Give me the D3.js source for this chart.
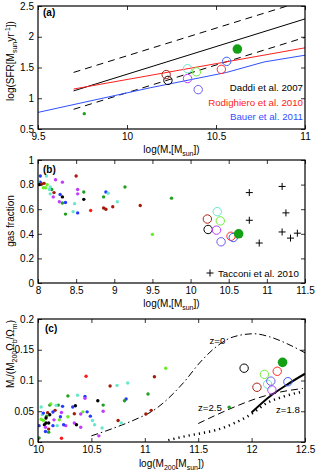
<!DOCTYPE html>
<html>
<head>
<meta charset="utf-8">
<script src="https://cdn.jsdelivr.net/npm/d3@7"></script>
<style>
body { margin: 0; background: #fff; }
text { font-family: "Liberation Sans", Arial, sans-serif; }
</style>
</head>
<body>
<svg id="fig" width="316" height="474"></svg>
<script>
// simulated galaxies, same order in every panel
var simColors = ["#000000", "#a8230f", "#66e8cc", "#6ef03c", "#c03cff", "#6c5cf0", "#ff2a2a", "#3c5cff"]
var bigGreen = "#14a014"
var dotColors = {k: "#000000", br: "#a51a08", aq: "#66e8cc", lg: "#66ee22", mg: "#c03cff",
                 bl: "#2838ff", rd: "#ff1a1a", gr: "#1ea01e"}

// ---- panel (a)
var aXTicks = [9.5, 10, 10.5, 11]
var aYTicks = [0.5, 1, 1.5, 2, 2.5]
var daddi = [[9.7, 1.12], [11, 2.29]]
var daddiHi = [[9.7, 1.42], [11, 2.59]]
var daddiLo = [[9.7, 0.82], [11, 1.99]]
var rodig = [[9.7, 1.15], [11, 1.82]]
var bauer = [[9.5, 0.77], [10.13, 1.17], [10.56, 1.42], [10.77, 1.59], [11, 1.70]]
var aCircX = [10.23, 10.22, 10.34, 10.39, 10.34, 10.40, 10.53, 10.56]
var aCircY = [1.29, 1.385, 1.48, 1.43, 1.32, 1.14, 1.47, 1.60]
var aBig = [10.62, 1.80]
var aDots = [[9.76, 0.75, "gr"]]

// ---- panel (b)
var bXTicks = [8, 8.5, 9, 9.5, 10, 10.5, 11, 11.5]
var bYTicks = [0, 0.2, 0.4, 0.6, 0.8, 1]
var bCircX = [10.23, 10.22, 10.35, 10.39, 10.34, 10.40, 10.53, 10.56]
var bCircY = [0.435, 0.52, 0.58, 0.505, 0.43, 0.335, 0.38, 0.37]
var bBig = [10.63, 0.40]
var tacX = [10.77, 11.2, 11.25, 10.77, 11.2, 11.31, 11.4, 10.9]
var tacY = [0.735, 0.785, 0.57, 0.51, 0.415, 0.365, 0.405, 0.325]
var bDots = [
  [8.03, 0.87, "bl"], [8.11, 0.87, "aq"], [8.23, 0.84, "mg"], [8.5, 0.87, "br"], [8.03, 0.82, "bl"],
  [8.0, 0.83, "aq"], [8.0, 0.81, "aq"], [8.02, 0.80, "k"], [8.05, 0.805, "br"], [8.08, 0.81, "br"],
  [8.12, 0.80, "lg"], [8.07, 0.775, "lg"], [8.1, 0.775, "lg"], [8.16, 0.78, "aq"], [8.18, 0.76, "gr"],
  [8.15, 0.76, "aq"], [8.32, 0.82, "mg"], [8.21, 0.735, "br"], [8.16, 0.725, "aq"], [8.2, 0.70, "mg"],
  [8.29, 0.72, "bl"], [8.32, 0.70, "k"], [8.52, 0.76, "mg"], [8.52, 0.725, "mg"], [8.6, 0.74, "gr"],
  [8.6, 0.68, "k"], [8.28, 0.66, "mg"], [8.36, 0.655, "bl"], [8.32, 0.65, "gr"], [8.36, 0.56, "gr"],
  [8.46, 0.58, "aq"], [8.52, 0.57, "bl"], [8.69, 0.59, "rd"], [8.48, 0.645, "aq"], [8.86, 0.70, "gr"],
  [8.89, 0.74, "bl"], [8.92, 0.73, "aq"], [8.86, 0.61, "br"], [8.89, 0.60, "br"], [8.98, 0.62, "br"],
  [9.04, 0.66, "aq"], [9.14, 0.78, "gr"], [9.34, 0.63, "br"], [9.5, 0.395, "lg"], [9.75, 0.69, "gr"]
]

// ---- panel (c)
var cXTicks = [10, 10.5, 11, 11.5, 12, 12.5]
var cYTicks = [0, 0.05, 0.1, 0.15, 0.2]
var cCircX = [11.93, 12.05, 12.15, 12.12, 12.19, 12.18, 12.24, 12.34]
var cCircY = [0.120, 0.089, 0.094, 0.110, 0.0846, 0.099, 0.115, 0.098]
var cBig = [12.29, 0.1295]
var z0 = [[10.50, 0.010], [10.70, 0.022], [10.955, 0.040], [11.05, 0.048], [11.36, 0.096], [11.52, 0.13],
          [11.67, 0.155], [11.83, 0.171], [12.02, 0.176], [12.17, 0.171], [12.33, 0.160], [12.5, 0.145]]
var z25 = [[11.50, 0.030], [11.67, 0.044], [11.86, 0.0585], [12.05, 0.071], [12.235, 0.080], [12.48, 0.087]]
var z18 = [[11.22, 0.003], [11.36, 0.0087], [11.52, 0.014], [11.67, 0.0195], [11.83, 0.030],
           [11.985, 0.044], [12.14, 0.063], [12.30, 0.074], [12.48, 0.082]]
var zSolid = [[12.0, 0.048], [12.17, 0.074], [12.33, 0.093], [12.5, 0.111]]
var zLabels = [["z=0", 11.68, 0.16], ["z=2.5", 11.61, 0.051], ["z=1.8", 12.34, 0.0477]]
var cDots = [
  [10.45, 0.107, "rd"], [10.22, 0.006, "rd"], [10.675, 0.091, "br"], [10.74, 0.092, "aq"], [10.84, 0.096, "aq"],
  [11.09, 0.106, "br"], [11.03, 0.078, "gr"], [10.825, 0.070, "bl"], [10.81, 0.067, "gr"], [11.06, 0.0515, "br"],
  [11.01, 0.0455, "br"], [10.56, 0.067, "k"], [10.61, 0.060, "gr"], [10.61, 0.050, "mg"], [10.75, 0.035, "br"],
  [10.78, 0.031, "aq"], [10.28, 0.075, "gr"], [10.37, 0.076, "aq"], [10.44, 0.074, "bl"], [10.44, 0.071, "mg"],
  [10.35, 0.059, "k"], [10.325, 0.057, "bl"], [10.19, 0.060, "gr"], [10.17, 0.0596, "aq"], [10.23, 0.058, "bl"],
  [10.11, 0.060, "gr"], [10.12, 0.062, "lg"], [10.03, 0.057, "aq"], [10.04, 0.0445, "aq"], [10.05, 0.047, "bl"],
  [10.09, 0.0477, "br"], [10.16, 0.0515, "br"], [10.22, 0.048, "mg"], [10.14, 0.0488, "bl"], [10.11, 0.0444, "k"],
  [10.08, 0.042, "gr"], [10.05, 0.035, "lg"], [10.075, 0.039, "k"], [10.03, 0.037, "lg"], [10.075, 0.031, "k"],
  [10.10, 0.031, "k"], [10.06, 0.028, "k"], [10.10, 0.021, "br"], [10.07, 0.024, "mg"], [10.10, 0.016, "gr"],
  [10.07, 0.017, "bl"], [10.01, 0.0266, "bl"], [10.01, 0.0065, "gr"], [10.20, 0.036, "lg"], [10.14, 0.0266, "bl"],
  [10.15, 0.036, "mg"], [10.18, 0.0266, "aq"], [10.21, 0.041, "bl"], [10.26, 0.0266, "mg"], [10.28, 0.041, "lg"],
  [10.34, 0.046, "br"], [10.34, 0.031, "mg"], [10.36, 0.028, "k"], [10.24, 0.028, "bl"], [10.40, 0.024, "mg"],
  [10.42, 0.049, "lg"], [10.40, 0.0455, "mg"], [10.46, 0.049, "bl"], [10.49, 0.042, "bl"], [10.51, 0.035, "aq"],
  [10.53, 0.028, "aq"], [10.60, 0.0228, "aq"], [10.57, 0.010, "mg"], [11.196, 0.120, "lg"], [11.79, 0.0564, "gr"]
]

var svg = d3.select("#fig")
var L = 38, R = 305

// text with sub/superscripts: parts = [[str, ""|"sub"|"sup"], ...]
function richText(sel, parts) {
    var shift = 0
    parts.forEach(function(p) {
        var t = sel.append("tspan").text(p[0])
        var want = p[1] == "sub" ? 3 : p[1] == "sup" ? -4 : 0
        if (want != shift) t.attr("dy", want - shift)
        if (p[1]) t.style("font-size", "7px")
        shift = want
    })
}

function panel(id, top, bottom, xDom, yDom, xTicks, yTicks) {
    var x = d3.scaleLinear().domain(xDom).range([L, R])
    var y = d3.scaleLinear().domain(yDom).range([bottom, top])
    var g = svg.append("g").attr("id", id)
    g.append("clipPath").attr("id", "clip" + id)
        .append("rect").attr("x", L).attr("y", top).attr("width", R - L).attr("height", bottom - top)
    var plot = g.append("g").attr("clip-path", "url(#clip" + id + ")")

    var ax = g.append("g").style("font-size", "10px")
    ax.append("g").attr("transform", "translate(0," + bottom + ")")
        .call(d3.axisBottom(x).tickValues(xTicks).tickSize(-4).tickPadding(4).tickFormat(d3.format("")))
    ax.append("g").attr("transform", "translate(0," + top + ")")
        .call(d3.axisTop(x).tickValues(xTicks).tickSize(-4).tickFormat(""))
    ax.append("g").attr("transform", "translate(" + L + ",0)")
        .call(d3.axisLeft(y).tickValues(yTicks).tickSize(-4).tickPadding(4).tickFormat(d3.format("")))
    ax.append("g").attr("transform", "translate(" + R + ",0)")
        .call(d3.axisRight(y).tickValues(yTicks).tickSize(-4).tickFormat(""))
    ax.selectAll(".domain").remove()
    ax.selectAll("line").attr("stroke", "#000").attr("stroke-width", 0.8)
    ax.selectAll("text").attr("fill", "#000").style("font-family", "'Liberation Sans', Arial, sans-serif")
    g.append("rect").attr("x", L).attr("y", top).attr("width", R - L).attr("height", bottom - top)
        .attr("fill", "none").attr("stroke", "#000").attr("stroke-width", 1.2)
    return {x: x, y: y, g: g, plot: plot}
}

function drawLine(p, pts, color, width, dash, curve) {
    var line = d3.line().x(function(d) { return p.x(d[0]) }).y(function(d) { return p.y(d[1]) })
        .curve(curve || d3.curveLinear)
    p.plot.append("path").datum(pts).attr("d", line).attr("fill", "none")
        .attr("stroke", color).attr("stroke-width", width).attr("stroke-dasharray", dash || null)
}

function drawDots(p, dots) {
    p.plot.append("g").selectAll("circle").data(dots).enter().append("circle")
        .attr("cx", function(d) { return p.x(d[0]) })
        .attr("cy", function(d) { return p.y(d[1]) })
        .attr("r", 1.7)
        .attr("fill", function(d) { return dotColors[d[2]] })
}

function drawCircles(p, xs, ys, big) {
    p.plot.append("g").selectAll("circle").data(xs).enter().append("circle")
        .attr("cx", function(d) { return p.x(d) })
        .attr("cy", function(d, i) { return p.y(ys[i]) })
        .attr("r", 4.2)
        .attr("fill", "none")
        .attr("stroke", function(d, i) { return simColors[i] })
        .attr("stroke-width", 1)
    p.plot.append("circle").attr("cx", p.x(big[0])).attr("cy", p.y(big[1])).attr("r", 4.8).attr("fill", bigGreen)
}

function tag(p, txt, x, y) {
    p.g.append("text").attr("x", x).attr("y", y).style("font-size", "10px").style("font-weight", "bold").text(txt)
}

function xLabel(p, y, parts) {
    richText(p.g.append("text").attr("x", (L + R) / 2).attr("y", y).attr("text-anchor", "middle")
        .style("font-size", "10px"), parts)
}

function yLabel(p, x, y, parts) {
    richText(p.g.append("text").attr("transform", "translate(" + x + "," + y + ") rotate(-90)")
        .attr("text-anchor", "middle").style("font-size", "10px"), parts)
}

var massLabel = [["log(M", ""], ["*", "sub"], ["[M", ""], ["sun", "sub"], ["])", ""]]

// (a)
var pa = panel("a", 6, 129, [9.5, 11], [0.5, 2.5], aXTicks, aYTicks)
drawLine(pa, daddiHi, "#000", 1, "7,5")
drawLine(pa, daddiLo, "#000", 1, "7,5")
drawLine(pa, daddi, "#000", 1)
drawLine(pa, rodig, "#ff2020", 1)
drawLine(pa, bauer, "#3050ff", 1)
drawDots(pa, aDots)
drawCircles(pa, aCircX, aCircY, aBig)
tag(pa, "(a)", 43, 16)
xLabel(pa, 153, massLabel)
yLabel(pa, 14, 61, [["log(SFR[M", ""], ["sun", "sub"], ["yr", ""], ["-1", "sup"], ["])", ""]])
var legA = [["Daddi et al. 2007", "#000", 91], ["Rodighiero et al. 2010", "#ff2020", 105.5], ["Bauer et al. 2011", "#3050ff", 120]]
pa.g.selectAll(".leg").data(legA).enter().append("text")
    .attr("x", 303).attr("y", function(d) { return d[2] }).attr("text-anchor", "end")
    .style("font-size", "9.7px").attr("fill", function(d) { return d[1] }).text(function(d) { return d[0] })

// (b)
var pb = panel("b", 160, 283, [8, 11.5], [0, 1], bXTicks, bYTicks)
drawDots(pb, bDots)
drawCircles(pb, bCircX, bCircY, bBig)
pb.plot.append("g").selectAll("path").data(tacX).enter().append("path")
    .attr("d", "M-3.5,0H3.5M0,-3.5V3.5")
    .attr("transform", function(d, i) { return "translate(" + pb.x(d) + "," + pb.y(tacY[i]) + ")" })
    .attr("stroke", "#000").attr("stroke-width", 1)
pb.g.append("path").attr("d", "M-3.5,0H3.5M0,-3.5V3.5").attr("transform", "translate(210,273)")
    .attr("stroke", "#000").attr("stroke-width", 1)
pb.g.append("text").attr("x", 218).attr("y", 276.5).style("font-size", "9.7px").text("Tacconi et al. 2010")
tag(pb, "(b)", 43, 173)
xLabel(pb, 307, massLabel)
yLabel(pb, 14, 221, [["gas fraction", ""]])

// (c)
var pc = panel("c", 319, 442, [10, 12.5], [0, 0.2], cXTicks, cYTicks)
drawLine(pc, z0, "#000", 1, "7,3,1.5,3", d3.curveMonotoneX)
drawLine(pc, z25, "#000", 1, "7,4", d3.curveMonotoneX)
drawLine(pc, z18, "#000", 2.5, "1.2,4", d3.curveMonotoneX)
drawLine(pc, zSolid, "#000", 2, null, d3.curveMonotoneX)
drawDots(pc, cDots)
drawCircles(pc, cCircX, cCircY, cBig)
tag(pc, "(c)", 45, 332)
xLabel(pc, 467, [["log(M", ""], ["200", "sub"], ["[M", ""], ["sun", "sub"], ["])", ""]])
yLabel(pc, 14, 354, [["M", ""], ["*", "sub"], ["/(M", ""], ["200", "sub"], ["Ω", ""], ["b", "sub"], ["/Ω", ""], ["m", "sub"], [")", ""]])
pc.g.selectAll(".zl").data(zLabels).enter().append("text")
    .attr("x", function(d) { return pc.x(d[1]) }).attr("y", function(d) { return pc.y(d[2]) })
    .attr("text-anchor", "middle").style("font-size", "9.7px").text(function(d) { return d[0] })
</script>
</body>
</html>
